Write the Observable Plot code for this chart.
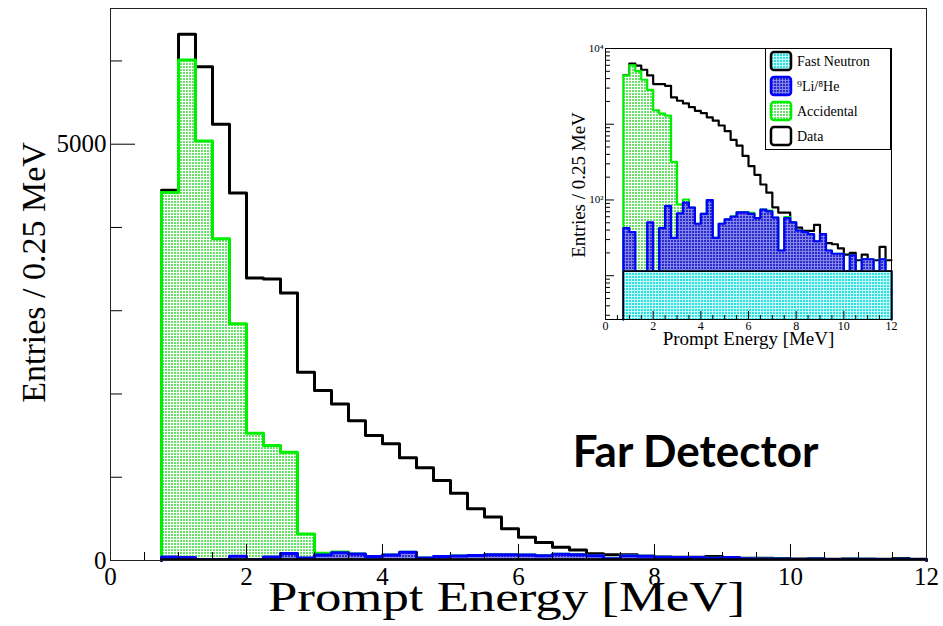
<!DOCTYPE html>
<html><head><meta charset="utf-8">
<script src="https://cdn.jsdelivr.net/npm/d3@7"></script>
<script src="https://cdn.jsdelivr.net/npm/@observablehq/plot@0.6"></script>
<style>
html,body{margin:0;padding:0;background:#fff;}
#wrap{position:relative;width:943px;height:626px;overflow:hidden;background:#fff;}
#main{position:absolute;left:0;top:0;}
#inset{position:absolute;left:560px;top:30px;}
#legend{position:absolute;left:765px;top:48px;}
#defs{position:absolute;left:0;top:0;width:0;height:0;}
</style></head>
<body>
<svg id="defs" width="0" height="0">
  <defs>
    <pattern id="greenDots" width="3" height="3" patternUnits="userSpaceOnUse">
      <rect width="3" height="3" fill="#ffffff"/><rect width="2" height="2" fill="#66e066"/>
    </pattern>
    <pattern id="blueDots" width="3" height="3" patternUnits="userSpaceOnUse">
      <rect width="3" height="3" fill="#8484ee"/><rect width="2" height="2" fill="#2c2cc8"/>
    </pattern>
    <pattern id="cyanDots" width="3" height="3" patternUnits="userSpaceOnUse">
      <rect width="3" height="3" fill="#c4fafa"/><rect width="2" height="2" fill="#30dede"/>
    </pattern>
  </defs>
</svg>
<div id="wrap"><div id="main"></div><div id="inset"></div><div id="legend"></div></div>
<script>
// ---- data (bins of 0.25 MeV, lower edges) ----
const binLow = [0.75,1,1.25,1.5,1.75,2,2.25,2.5,2.75,3,3.25,3.5,3.75,4,4.25,4.5,4.75,5,5.25,5.5,5.75,6,6.25,6.5,6.75,7,7.25,7.5,7.75,8,8.25,8.5,8.75,9,9.25,9.5,9.75,10,10.25,10.5,10.75,11,11.25,11.5,11.75];
const binWidth = 0.25;
const dataCounts = [4447,6322,5930,5240,4415,3393,3380,3213,2260,2043,1880,1680,1502,1402,1234,1114,962,809,621,521,381,280,215,160,125,80,68,68,50,43,39,39,47,35,27,26,23,19,20,16,19,16,16,24,16];
const accidental = [4378,5973,5028,3854,2794,1518,1340,1218,288,21,9,0,0,0,0,0,0,0,0,0,0,2,0,0,2,0,0,2,0,0,0,0,0,0,0,0,0,0,0,0,0,0,0,0,0];
const liHe = [31,26,0,0,39,0,31,72,20,55,81,68,37,54,88,20,37,44,49,57,57,54,46,63,59,47,10,46,39,28,26,24,17,24,10,8,8,0,7,0,5,5,0,5,0];
const fastNeutron = [11.5,11.5,11.5,11.5,11.5,11.5,11.5,11.5,11.5,11.5,11.5,11.5,11.5,11.5,11.5,11.5,11.5,11.5,11.5,11.5,11.5,11.5,11.5,11.5,11.5,11.5,11.5,11.5,11.5,11.5,11.5,11.5,11.5,11.5,11.5,11.5,11.5,11.5,11.5,11.5,11.5,11.5,11.5,11.5,11.5];
const xMajorTicks = [0,2,4,6,8,10,12];
const mainYLabels = [0,5000];
const mainYMinorTicks = [1000,2000,3000,4000,6000];
const insetYLabels = [100,10000];
const legendLabels = ["Fast Neutron","\u2079Li/\u2078He","Accidental","Data"];
const xTitle = "Prompt Energy [MeV]";
const yTitle = "Entries / 0.25 MeV";
const annotation = "Far Detector";

// stacked totals (as THStack draws them)
const liStack = fastNeutron.map((v,i)=>v+liHe[i]);
const accStack = liStack.map((v,i)=>v+accidental[i]);

function steps(vals){
  const p = binLow.map((x,i)=>({x, y: vals[i]}));
  p.push({x: binLow[binLow.length-1]+binWidth, y: vals[vals.length-1]});
  return p;
}
function closed(vals, base){
  const p = steps(vals);
  return [{x:p[0].x, y:base}, ...p, {x:p[p.length-1].x, y:base}];
}
const xMinor = d3.range(0, 12.001, 0.5).filter(v => v % 2 !== 0);

function histMarks(base, lw){
  const o = {x:"x", y:"y", curve:"step-after"};
  const a = {x:"x", y1: base, y2:"y", curve:"step-after"};
  return [
    Plot.line(steps(dataCounts), {...o, stroke:"#000", strokeWidth:lw}),
    Plot.areaY(steps(accStack), {...a, fill:"url(#greenDots)"}),
    Plot.line(closed(accStack, base), {...o, stroke:"#00ee00", strokeWidth:lw}),
    Plot.areaY(steps(liStack), {...a, fill:"url(#blueDots)"}),
    Plot.line(closed(liStack, base), {...o, stroke:"#0000ff", strokeWidth:lw}),
    Plot.areaY(steps(fastNeutron), {...a, fill:"url(#cyanDots)"}),
    Plot.line(closed(fastNeutron, base), {...o, stroke:"#000", strokeWidth:lw-0.5})
  ];
}

// ---- main chart ----
const fwM = 816, fhM = 552;
const main = Plot.plot({
  width:943, height:626, marginLeft:110, marginRight:17, marginTop:8, marginBottom:66,
  x:{domain:[0,12]}, y:{domain:[0,6630]},
  style:{fontFamily:"Liberation Serif", background:"white", overflow:"visible"},
  marks:[
    ...histMarks(0, 3),
    Plot.tickX(xMajorTicks, {x:d=>d, insetTop:fhM-16, stroke:"#000"}),
    Plot.tickX(xMinor, {x:d=>d, insetTop:fhM-8, stroke:"#000"}),
    Plot.tickY(mainYLabels, {y:d=>d, insetRight:fwM-25, stroke:"#000"}),
    Plot.tickY(mainYMinorTicks, {y:d=>d, insetRight:fwM-12, stroke:"#000"}),
    Plot.frame({stroke:"#222"}),
    Plot.axisX(xMajorTicks, {tickSize:0, tickPadding:7, fontSize:25, label:null, tickFormat:d=>String(d)}),
    Plot.axisY(mainYLabels, {tickSize:0, tickPadding:4, fontSize:25, label:null, tickFormat:d=>String(d)}),
    Plot.text([xTitle], {text:d=>d, frameAnchor:"bottom", textAnchor:"middle", dy:50, dx:-12, fontSize:43}),
    Plot.text([yTitle], {text:d=>d, frameAnchor:"left", textAnchor:"middle", rotate:-90, dx:-76, dy:-12, fontSize:34}),
    Plot.text([annotation], {text:d=>d, frameAnchor:"bottom-right", textAnchor:"middle", dx:-231, dy:-94, fontSize:44, fontWeight:700, fontFamily:"Lato"})
  ]
});
// stretch the main x title horizontally, as in the reference
d3.select(main).selectAll("text").filter(function(){ return this.textContent === xTitle; })
  .attr("textLength", 477).attr("lengthAdjust", "spacingAndGlyphs");
document.getElementById("main").append(main);

// ---- inset (log scale) ----
const fwI = 286, fhI = 271, yMinI = 2.64;
const logTicks = d3.scaleLog().domain([yMinI, 10000]).ticks();
const isDecade = d => Math.abs(Math.log10(d) - Math.round(Math.log10(d))) < 1e-9;
const inset = Plot.plot({
  width:340, height:330, marginLeft:45, marginTop:18, marginRight:9, marginBottom:41,
  x:{domain:[0,12]}, y:{type:"log", domain:[yMinI,10000]},
  style:{fontFamily:"Liberation Serif", background:"transparent", overflow:"visible"},
  marks:[
    Plot.frame({fill:"white", stroke:"none"}),
    ...histMarks(yMinI, 2.2),
    Plot.tickX(xMajorTicks, {x:d=>d, insetTop:fhI-8, stroke:"#000"}),
    Plot.tickX(xMinor, {x:d=>d, insetTop:fhI-4, stroke:"#000"}),
    Plot.tickY(logTicks.filter(isDecade), {y:d=>d, insetRight:fwI-9, stroke:"#000"}),
    Plot.tickY(logTicks.filter(d=>!isDecade(d)), {y:d=>d, insetRight:fwI-5, stroke:"#000"}),
    Plot.frame({stroke:"#000"}),
    Plot.axisX(xMajorTicks, {tickSize:0, tickPadding:2, fontSize:12, label:null, tickFormat:d=>String(d)}),
    Plot.axisY(insetYLabels, {tickSize:0, tickPadding:2, fontSize:11, label:null, tickFormat:d=> d===100 ? "10\u00B2" : "10\u2074"}),
    Plot.text([xTitle], {text:d=>d, frameAnchor:"bottom", textAnchor:"middle", dy:25, fontSize:19}),
    Plot.text([yTitle], {text:d=>d, frameAnchor:"left", textAnchor:"middle", rotate:-90, dx:-27, dy:1, fontSize:19})
  ]
});
document.getElementById("inset").append(inset);

// ---- legend ----
const lg = d3.select("#legend").append("svg").attr("width",126).attr("height",102)
  .style("font-family","Liberation Serif");
lg.append("rect").attr("x",0.5).attr("y",0.5).attr("width",125).attr("height",101).attr("fill","white").attr("stroke","#000");
const swFill = ["url(#cyanDots)","url(#blueDots)","url(#greenDots)","white"];
const swStroke = ["#000","#0000ff","#00ee00","#000"];
legendLabels.forEach((t,i)=>{
  const cy = 13 + i*25;
  lg.append("rect").attr("x",6).attr("y",cy-9).attr("width",20).attr("height",18).attr("rx",3)
    .attr("fill",swFill[i]).attr("stroke",swStroke[i]).attr("stroke-width",2.5);
  lg.append("text").attr("x",32).attr("y",cy).attr("dy","0.35em").attr("font-size",14).text(t);
});
</script>
</body></html>
